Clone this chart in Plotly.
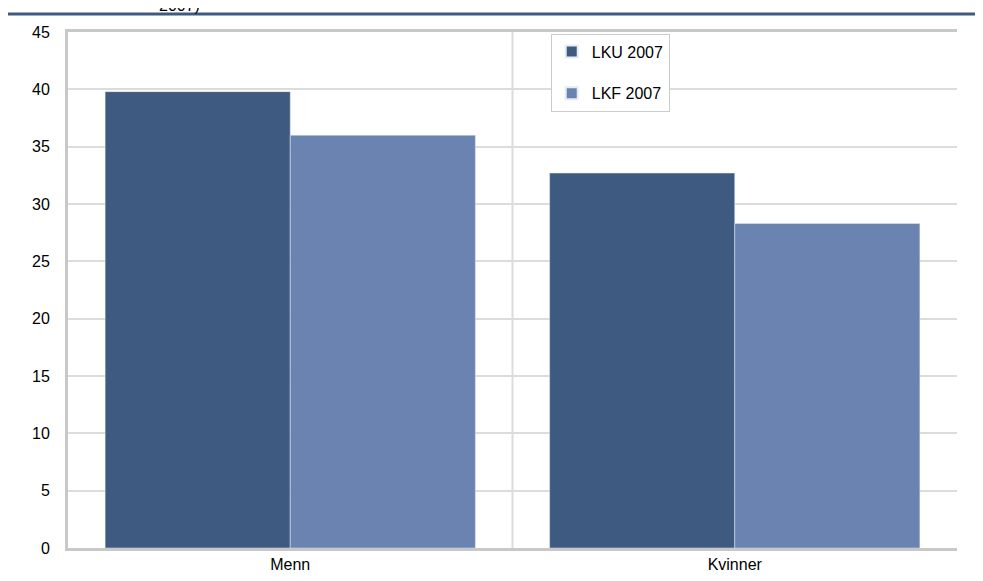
import plotly.graph_objects as go

categories = ["Menn", "Kvinner"]
lku = [39.8, 32.7]
lkf = [36.0, 28.3]
yticks = list(range(0, 50, 5))

fig = go.Figure()
fig.add_bar(x=categories, y=lku, name="LKU 2007", marker_color="#3F5A80", legendgroup="a")
fig.add_bar(x=categories, y=lkf, name="LKF 2007", marker_color="#6A83B0", legendgroup="b")
fig.update_layout(
    width=983, height=581, barmode="group", bargap=0.167, bargroupgap=0,
    margin=dict(l=60, r=34, t=24, b=41),
    plot_bgcolor="white", paper_bgcolor="white",
    font=dict(family="Liberation Sans, Arial", size=16, color="black"),
    legend=dict(x=0.543, y=0.997, xanchor="left", yanchor="top", bgcolor="white",
                bordercolor="#cccccc", borderwidth=1, font=dict(size=16),
                itemsizing="constant", tracegroupgap=18, itemwidth=30),
    xaxis=dict(showline=True, linecolor="#c8c8c8", linewidth=3, mirror=True,
               ticks="", tickfont=dict(size=16), automargin=False),
    yaxis=dict(range=[0, 45], tickvals=yticks, showgrid=True, gridcolor="#dcdcdc",
               gridwidth=2, showline=True, linecolor="#c8c8c8", linewidth=3,
               ticks="", tickfont=dict(size=16), ticklabelstandoff=12,
               zeroline=False, automargin=False),
    shapes=[
        dict(type="line", xref="paper", yref="paper", x0=-0.2, x1=1.2, y0=1.035, y1=1.035,
             line=dict(color="#3D5A80", width=3)),
        dict(type="line", xref="paper", yref="paper", x0=0.5, x1=0.5, y0=0, y1=1,
             line=dict(color="#dcdcdc", width=2), layer="below"),
    ],
    annotations=[dict(text="2007)", xref="paper", yref="paper", x=0.1, y=1.031,
                      xanchor="left", yanchor="bottom", showarrow=False, font=dict(size=16))],
)
fig.write_html("out.html")
